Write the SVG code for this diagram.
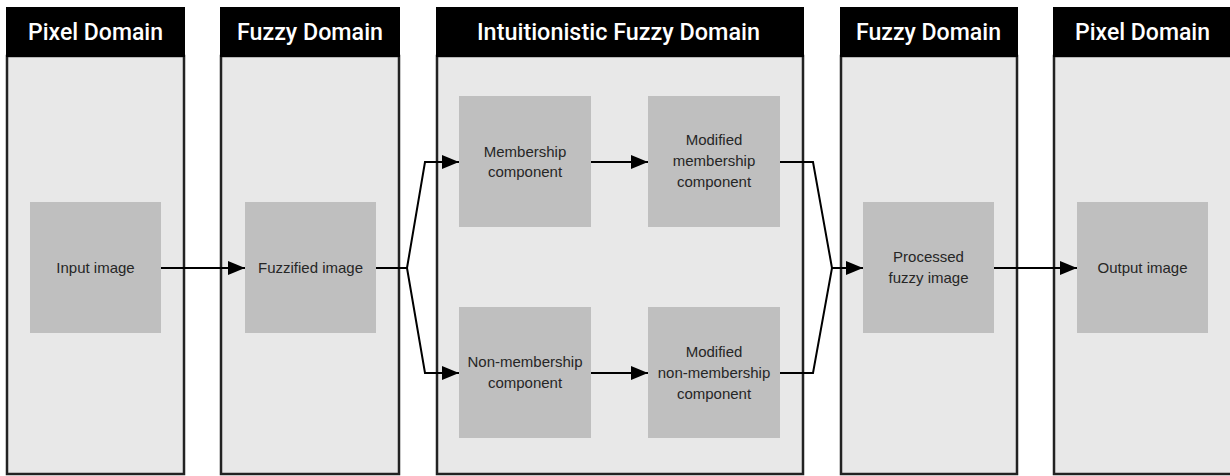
<svg xmlns="http://www.w3.org/2000/svg" width="1230" height="476" viewBox="0 0 1230 476">
<style>
.panel{fill:#e8e8e8;stroke:#222;stroke-width:2.5}
.hdr{fill:#000}
.ht{fill:#fff;font-family:Roboto,"Liberation Sans",sans-serif;font-weight:500;font-size:23px;text-anchor:middle}
.box{fill:#bfbfbf}
.bt{fill:#262626;font-family:"Liberation Sans",Arial,sans-serif;font-size:15px;text-anchor:middle}
.conn{fill:none;stroke:#000;stroke-width:2}
</style>
<defs>
<marker id="arr" markerUnits="userSpaceOnUse" markerWidth="17" markerHeight="14" viewBox="0 0 17 14" refX="17" refY="7" orient="auto">
<path d="M0,0 L17,7 L0,14 z" fill="#000"/>
</marker>
</defs>
<rect width="1230" height="476" fill="#fff"/>
<g id="panel-pixel-1">
<rect class="panel" x="7" y="56" width="177" height="418"/>
<rect class="hdr" x="6" y="7" width="179" height="50"/>
<text class="ht" x="95.5" y="40" textLength="135" lengthAdjust="spacingAndGlyphs">Pixel Domain</text>
</g>
<g id="panel-fuzzy-1">
<rect class="panel" x="221" y="56" width="178" height="418"/>
<rect class="hdr" x="220" y="7" width="180" height="50"/>
<text class="ht" x="310" y="40" textLength="146" lengthAdjust="spacingAndGlyphs">Fuzzy Domain</text>
</g>
<g id="panel-ifs">
<rect class="panel" x="437" y="56" width="366" height="418"/>
<rect class="hdr" x="436" y="7" width="368" height="50"/>
<text class="ht" x="618.5" y="40" textLength="283" lengthAdjust="spacingAndGlyphs">Intuitionistic Fuzzy Domain</text>
</g>
<g id="panel-fuzzy-2">
<rect class="panel" x="841" y="56" width="176" height="418"/>
<rect class="hdr" x="840" y="7" width="178" height="50"/>
<text class="ht" x="928.5" y="40" textLength="145" lengthAdjust="spacingAndGlyphs">Fuzzy Domain</text>
</g>
<g id="panel-pixel-2">
<rect class="panel" x="1054" y="56" width="180" height="418"/>
<rect class="hdr" x="1053" y="7" width="182" height="50"/>
<text class="ht" x="1142.5" y="40" textLength="135" lengthAdjust="spacingAndGlyphs">Pixel Domain</text>
</g>
<g id="input-image">
<rect class="box" x="30" y="202" width="131" height="131"/>
<text class="bt" x="95.5" y="273">Input image</text>
</g>
<g id="fuzzified-image">
<rect class="box" x="245" y="202" width="131" height="131"/>
<text class="bt" x="310.5" y="273">Fuzzified image</text>
</g>
<g id="membership">
<rect class="box" x="459" y="96" width="132" height="131"/>
<text class="bt" x="525" y="157">Membership</text>
<text class="bt" x="525" y="177">component</text>
</g>
<g id="modified-membership">
<rect class="box" x="648" y="96" width="132" height="131"/>
<text class="bt" x="714" y="145">Modified</text>
<text class="bt" x="714" y="166">membership</text>
<text class="bt" x="714" y="187">component</text>
</g>
<g id="non-membership">
<rect class="box" x="459" y="307" width="132" height="131"/>
<text class="bt" x="525" y="367">Non-membership</text>
<text class="bt" x="525" y="388">component</text>
</g>
<g id="modified-non-membership">
<rect class="box" x="648" y="307" width="132" height="131"/>
<text class="bt" x="714" y="357">Modified</text>
<text class="bt" x="714" y="378">non-membership</text>
<text class="bt" x="714" y="399">component</text>
</g>
<g id="processed-fuzzy-image">
<rect class="box" x="863" y="202" width="131" height="131"/>
<text class="bt" x="928.5" y="262">Processed</text>
<text class="bt" x="928.5" y="283">fuzzy image</text>
</g>
<g id="output-image">
<rect class="box" x="1077" y="202" width="131" height="131"/>
<text class="bt" x="1142.5" y="273">Output image</text>
</g>
<g id="connectors">
<path class="conn" d="M161,268 H245" marker-end="url(#arr)"/>
<path class="conn" d="M376,268 H407 L425,162 H459" marker-end="url(#arr)"/>
<path class="conn" d="M407,268 L425,373 H459" marker-end="url(#arr)"/>
<path class="conn" d="M591,162 H648" marker-end="url(#arr)"/>
<path class="conn" d="M591,373 H648" marker-end="url(#arr)"/>
<path class="conn" d="M780,162 H813 L832,268 L813,373 H780"/>
<path class="conn" d="M832,268 H863" marker-end="url(#arr)"/>
<path class="conn" d="M994,268 H1077" marker-end="url(#arr)"/>
</g>
</svg>
